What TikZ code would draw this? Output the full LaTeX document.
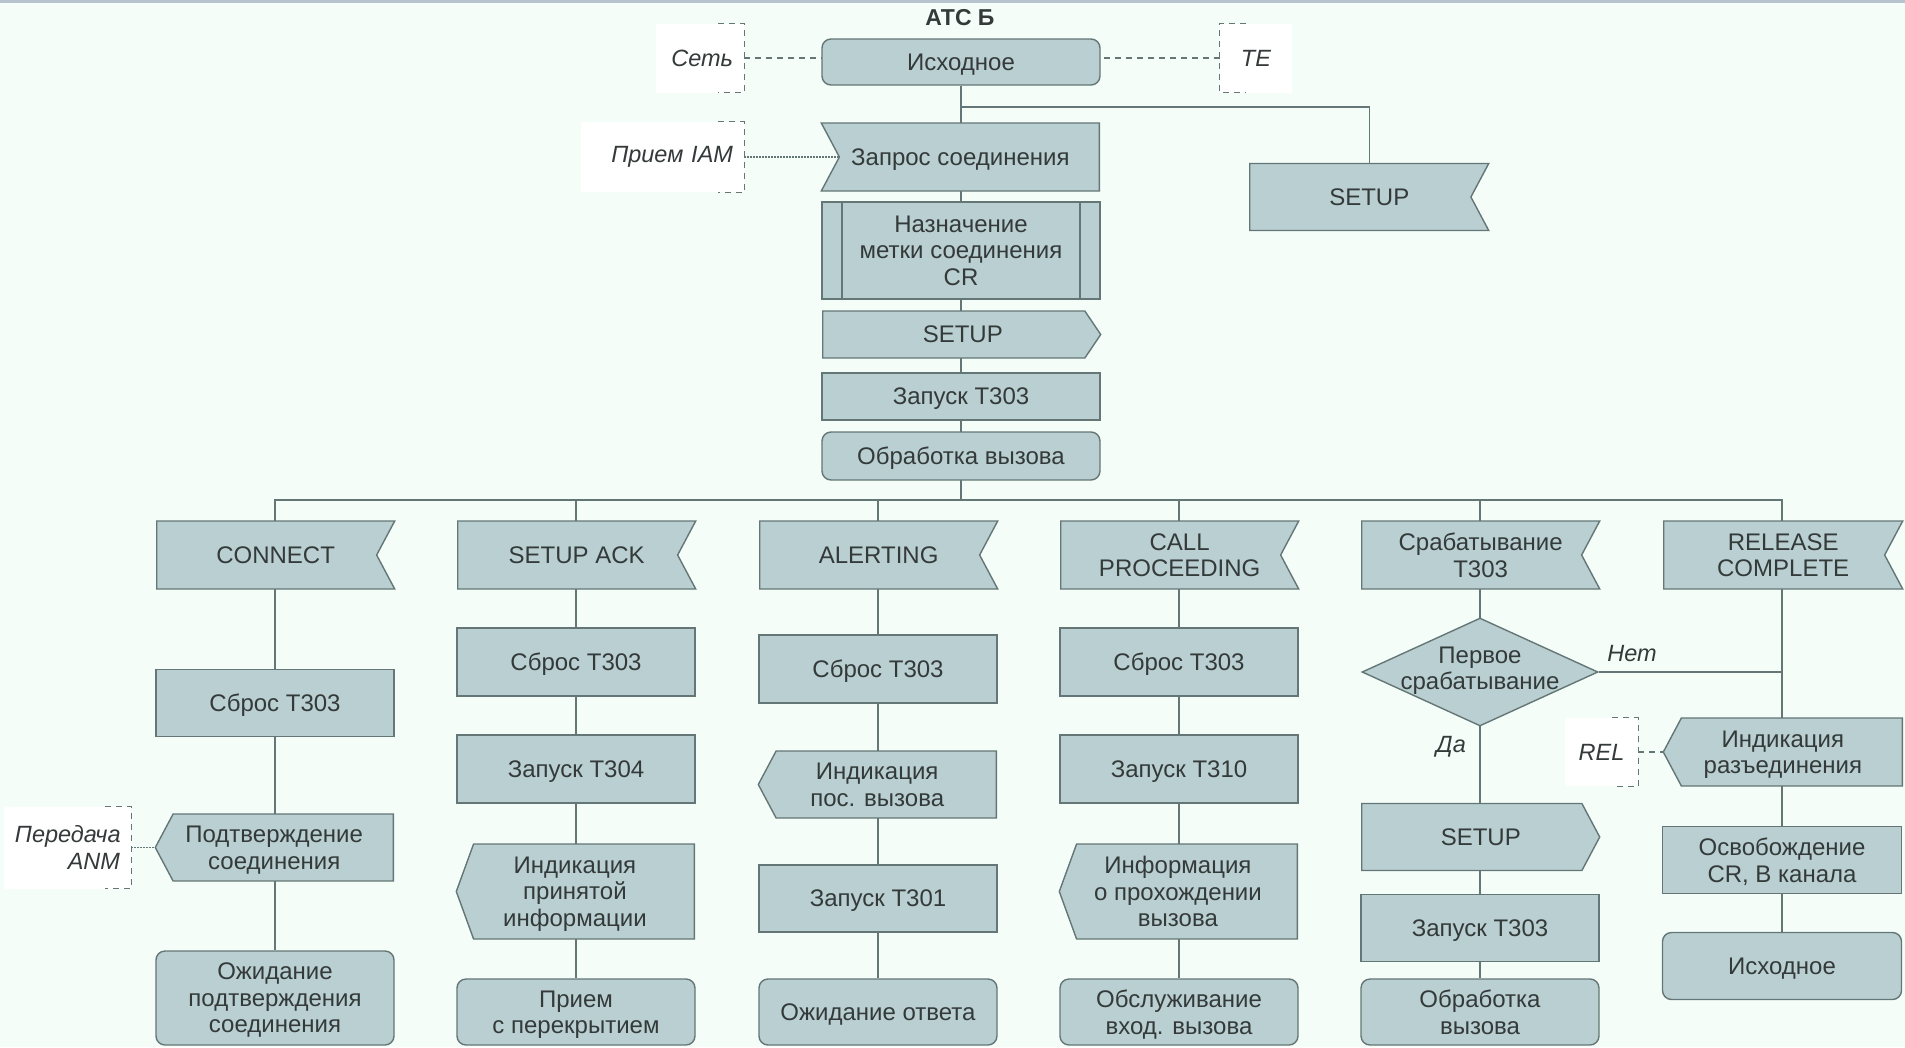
\documentclass[tikz,border=0pt]{standalone}
\usepackage{fontspec}
\setmainfont{Liberation Sans}
\usetikzlibrary{shapes.symbols, shapes.geometric, calc, math, backgrounds, positioning}
\definecolor{sdlfill}{RGB}{185,207,209}
\definecolor{sdlline}{RGB}{100,118,117}
\definecolor{sdltext}{RGB}{52,58,58}
\definecolor{sdlbg}{RGB}{245,253,249}
\definecolor{sdltop}{RGB}{183,195,207}

\tikzset{
  blk/.style={draw=sdlline, fill=sdlfill, line width=1.4bp, text=sdltext,
    align=center, inner sep=1bp, minimum width=238bp, minimum height=67bp,
    text depth=0pt, font=\fontsize{24bp}{26.5bp}\selectfont},
  sigtext/.style={text=sdltext, align=center, inner sep=0pt, text depth=0pt,
    font=\fontsize{24bp}{26.5bp}\selectfont},
  task/.style={blk, rectangle},
  state/.style={blk, rectangle, rounded corners=9bp},
  proc/.style={task, path picture={
      \draw[sdlline, line width=1.4bp]
        ([xshift=20bp]path picture bounding box.north west) -- ([xshift=20bp]path picture bounding box.south west)
        ([xshift=-20bp]path picture bounding box.north east) -- ([xshift=-20bp]path picture bounding box.south east);}},
  % signal shapes: placed by their flat side, text centred over the whole outline
  sigin/.style={blk, signal, signal to=nowhere, signal from=east, signal pointer angle=124,
    anchor=west, label={[sigtext, xshift=9bp]center:{#1}}},
  sigfrom/.style={blk, signal, signal to=nowhere, signal from=west, signal pointer angle=124,
    anchor=east, label={[sigtext, xshift=-9bp]center:{#1}}},
  sigout/.style={blk, signal, signal to=east, signal pointer angle=124,
    anchor=west, label={[sigtext, xshift=9bp]center:{#1}}},
  sigback/.style={blk, signal, signal to=west, signal pointer angle=124,
    anchor=east, label={[sigtext, xshift=-9bp]center:{#1}}},
  decide/.style={blk, diamond, minimum width=236bp, minimum height=108bp, inner sep=0pt},
  note/.style={fill=white, text=sdltext, inner xsep=11bp, inner ysep=0pt, align=right,
    font=\fontsize{23.5bp}{26.5bp}\selectfont\itshape},
  lbl/.style={text=sdltext, font=\fontsize{23.5bp}{26.5bp}\selectfont\itshape},
  link/.style={draw=sdlline, line width=1.4bp},
  comm/.style={draw=sdlline, line width=1.2bp, dash pattern=on 6bp off 5bp},
  dots/.style={draw=sdlline, line width=1.2bp, dash pattern=on 1.5bp off 1.5bp},
}

\begin{document}
\begin{tikzpicture}[x=1bp, y=-1bp]
\tikzmath{
  \colA = 275; \colB = 576; \colC = 878; \colD = 1179; \colE = 1480; \colF = 1782;
  \half = 119;
}
\useasboundingbox (0,0) rectangle (1905,1047);

% start branch
\node[text=sdltext, font=\fontsize{23bp}{26bp}\selectfont\bfseries] (title) at (960,18) {АТС Б};
\node[state, minimum width=278bp, minimum height=46bp] (ish) at (961,62) {Исходное};
\node[note, minimum height=69bp, text width=66bp] (net) at (700,58) {Сеть};
\node[note, minimum height=69bp, text width=50bp, align=center] (te) at (1256,58) {TE};
\node[sigfrom={Запрос соединения}, minimum width=278bp, minimum height=68bp] (req) at (1100,157) {};
\node[note, minimum height=70bp, text width=141bp] (iam) at (662.5,157) {Прием IAM};
\node[sigin=SETUP, minimum width=239bp] (setupR) at (1249,197) {};
\node[proc, minimum width=278bp, minimum height=97bp] (cr) at (961,250.5) {Назначение\\метки соединения\\CR};
\node[sigout=SETUP, signal pointer angle=112, minimum width=278bp, minimum height=47bp] (setupA) at (822,334.5) {};
\node[task, minimum width=278bp, minimum height=47bp] (tA) at (961,396.5) {Запуск Т303};
\node[state, minimum width=278bp, minimum height=48bp] (obrA) at (961,456) {Обработка вызова};

\coordinate (fork) at (961,107);
\coordinate (bus) at (961,500);

% received signals
\node[sigin=CONNECT, minimum height=68bp] (h1) at (\colA-\half,555) {};
\node[sigin={SETUP ACK}, minimum height=68bp] (h2) at (\colB-\half,555) {};
\node[sigin=ALERTING, minimum height=68bp] (h3) at (\colC-\half,555) {};
\node[sigin={CALL\\PROCEEDING}, minimum height=68bp] (h4) at (\colD-\half,555) {};
\node[sigin={Срабатывание\\Т303}, minimum height=68bp] (h5) at (\colE-\half,555) {};
\node[sigin={RELEASE\\COMPLETE}, minimum height=68bp, minimum width=239bp] (h6) at (\colF-\half,555) {};

% CONNECT
\node[task] (c1a) at (\colA,703) {Сброс Т303};
\node[sigback={Подтверждение\\соединения}] (c1b) at (\colA+\half,847.5) {};
\node[state, minimum height=94bp] (c1c) at (\colA,998) {Ожидание\\подтверждения\\соединения};
\node[note, minimum height=82bp, text width=105bp] (anm) at (67.5,847.5) {Передача\\ANM};

% SETUP ACK
\node[task, minimum height=68bp] (c2a) at (\colB,662) {Сброс Т303};
\node[task, minimum height=68bp] (c2b) at (\colB,769) {Запуск Т304};
\node[sigback={Индикация\\принятой\\информации}, minimum height=95bp, signal pointer angle=140] (c2c) at (\colB+\half,891.5) {};
\node[state, minimum height=66bp] (c2d) at (\colB,1012) {Прием\\с перекрытием};

% ALERTING
\node[task, minimum height=68bp] (c3a) at (\colC,669) {Сброс Т303};
\node[sigback={Индикация\\пос. вызова}] (c3b) at (\colC+\half,784.5) {};
\node[task] (c3c) at (\colC,898.5) {Запуск Т301};
\node[state, minimum height=66bp] (c3d) at (\colC,1012) {Ожидание ответа};

% CALL PROCEEDING
\node[task, minimum height=68bp] (c4a) at (\colD,662) {Сброс Т303};
\node[task, minimum height=68bp] (c4b) at (\colD,769) {Запуск Т310};
\node[sigback={Информация\\о прохождении\\вызова}, minimum height=95bp, signal pointer angle=140] (c4c) at (\colD+\half,891.5) {};
\node[state, minimum height=66bp] (c4d) at (\colD,1012) {Обслуживание\\вход. вызова};

% T303 expiry
\node[decide, label={[sigtext, yshift=4bp]center:{Первое\\срабатывание}}] (c5a) at (\colE,672) {};
\node[sigout=SETUP] (c5b) at (\colE-\half,837) {};
\node[task] (c5c) at (\colE,928) {Запуск Т303};
\node[state, minimum height=66bp] (c5d) at (\colE,1012) {Обработка\\вызова};
\node[lbl] (no) at (1632,654) {Нет};
\node[lbl] (yes) at (1451,747) {Да};

% RELEASE COMPLETE
\node[sigback={Индикация\\разъединения}, minimum width=239bp, minimum height=68bp] (c6a) at (1903,752) {};
\node[task, minimum width=239bp] (c6b) at (\colF,860) {Освобождение\\CR, В канала};
\node[state, minimum width=239bp] (c6c) at (\colF,966) {Исходное};
\node[note, minimum height=68bp, text width=51bp, align=center] (rel) at (1601.5,752) {REL};

% flow lines run behind the boxes
\begin{scope}[on background layer]
\fill[sdlbg] (0,0) rectangle (1905,1047);
\fill[sdltop] (0,0) rectangle (1905,3);
\draw[link] (ish) -- (bus);
\draw[link] (fork) -| ([xshift=9bp]setupR.north);
\foreach \c in {c1c,c2d,c3d,c4d,c5d,c6c}
  \draw[link] (bus) -| (\c);
\draw[link] (c5a) -- (c5a -| c6c);
\end{scope}

% comments
\draw[comm] (net) -- (net -| ish.west);
\draw[comm] (te) -- (te -| ish.east);
\draw[comm] (rel) -- (c6a);
\draw[dots] (iam) -- (req);
\draw[dots] (anm) -- (c1b);
\foreach \n in {net,iam,anm,rel}
  \draw[comm] ([xshift=-26bp]\n.north east) -- (\n.north east) -- (\n.south east) -- ([xshift=-26bp]\n.south east);
\draw[comm] ([xshift=26bp]te.north west) -- (te.north west) -- (te.south west) -- ([xshift=26bp]te.south west);
\end{tikzpicture}
\end{document}
